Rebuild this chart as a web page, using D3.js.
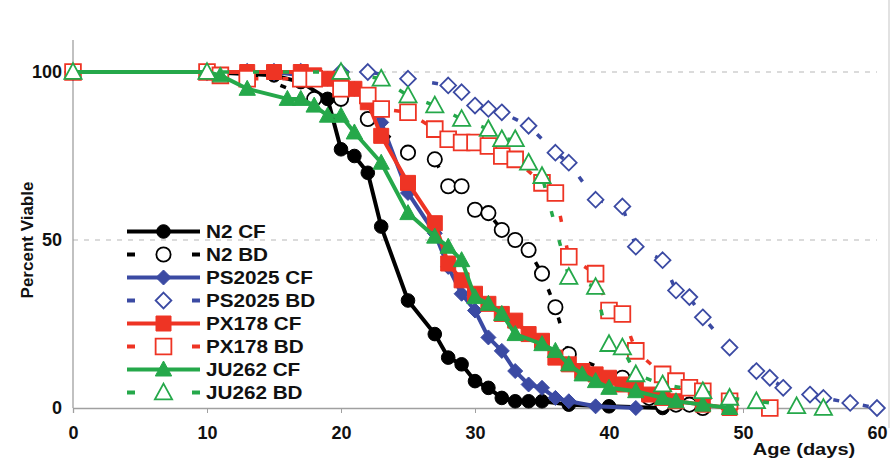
<!DOCTYPE html>
<html><head><meta charset="utf-8">
<script src="https://cdn.jsdelivr.net/npm/d3@7"></script>
<style>html,body{margin:0;padding:0;background:#fff;}svg{display:block;}</style>
</head><body>
<svg id="chart" width="894" height="466"></svg>
<script>
// ---- data ----
const xTicks = [0, 10, 20, 30, 40, 50, 60];
const yTicks = [0, 50, 100];
const seriesNames = ["N2 CF", "N2 BD", "PS2025 CF", "PS2025 BD", "PX178 CF", "PX178 BD", "JU262 CF", "JU262 BD"];

const n2CF = [[0,100],[10,100],[15,99],[17,97],[19,92],[20,77],[21,75],[22,70],[23,54],[25,32],[27,22],[28,15],[29,13],[30,8],[31,6],[32,3],[33,2],[34,2],[35,2],[37,1],[40,0.5],[44,0]];
const n2BD = [[0,100],[13,100],[18,92],[20,92],[22,86],[25,76],[27,74],[28,66],[29,66],[30,59],[31,58],[32,53],[33,50],[34,47],[35,40],[36,30],[37,16],[41,9],[43,3],[44,1],[45,1],[46,1],[47,0]];
const psCF = [[0,100],[10,100],[13,100],[15,100],[17,99],[19,98],[21,95],[22,91],[23,85],[25,64],[27,52],[28,42],[29,34],[30,29],[31,21],[32,17],[33,11],[34,7],[35,6],[36,3],[37,2],[39,0.5],[42,0]];
const psBD = [[0,100],[10,100],[13,100],[15,100],[17,100],[20,100],[22,100],[25,98],[28,96],[29,94],[30,90],[31,89],[32,88],[34,84],[36,76],[37,73],[39,62],[41,60],[42,48],[44,44],[45,35],[46,33],[47,27],[49,18],[51,11],[52,9],[53,6],[55,4],[56,3],[58,1.5],[60,0]];
const pxCF = [[0,100],[13,100],[15,100],[17,100],[18,99],[19,98],[20,97],[21,95],[22,91],[23,81],[25,67],[27,55],[28,43],[29,38],[30,34],[31,31],[32,28],[33,26],[34,22],[35,20],[36,15],[37,13],[38,11],[39,10],[40,9],[41,7],[42,6],[43,4],[44,3],[45,2],[47,1],[49,0]];
const pxBD = [[0,100],[10,100],[11,99],[13,98],[17,98],[18,98],[20,95],[22,93],[23,89],[25,88],[27,83],[28,80],[29,79],[30,79],[31,78],[32,75],[33,74],[35,67],[36,64],[37,45],[39,40],[40,29],[41,28],[42,17],[44,10],[45,8],[46,6],[47,5],[49,2],[52,0]];
const juCF = [[0,100],[10,100],[11,99],[13,95],[16,92],[17,92],[18,90],[19,87],[20,87],[21,82],[23,73],[25,58],[27,51],[28,48],[29,44],[30,33],[31,31],[32,28],[33,22],[35,19],[36,17],[37,13],[38,10],[39,8],[40,6],[42,5],[44,3],[45,2],[47,1],[49,0]];
const juBD = [[0,100],[10,100],[20,100],[23,98],[25,93],[27,90],[29,86],[31,83],[32,80],[33,80],[34,73],[35,69],[37,39],[39,36],[40,19],[41,18],[42,10],[44,7],[47,5],[49,3],[51,2],[54,0.5],[56,0]];

const seriesData = [n2CF, n2BD, psCF, psBD, pxCF, pxBD, juCF, juBD];
const seriesColors = ["#000000", "#000000", "#3b4aa3", "#3b4aa3", "#ee3424", "#ee3424", "#25a84a", "#25a84a"];
const seriesShapes = ["circle", "circle", "diamond", "diamond", "square", "square", "triangle", "triangle"];
const seriesFilled = [true, false, true, false, true, false, true, false];

// ---- drawing ----
const FONT = "Liberation Sans, Arial, sans-serif";
const svg = d3.select("#chart");
const x = d3.scaleLinear().domain([0, 60]).range([73, 877]);
const y = d3.scaleLinear().domain([0, 100]).range([408, 72]);

function shapePath(type, filled) {
  const s = filled ? 1 : 1.05;
  if (type === "circle") { const r = 6.8 * s; return `M${-r},0A${r},${r} 0 1,0 ${r},0A${r},${r} 0 1,0 ${-r},0Z`; }
  if (type === "square") { const h = 7.5 * s; return `M${-h},${-h}H${h}V${h}H${-h}Z`; }
  if (type === "triangle") { const w = 8.2 * s; return `M0,${-8.5*s}L${w},${6.5*s}L${-w},${6.5*s}Z`; }
  if (type === "diamond") { const d = 7.5 * s; return `M0,${-d}L${d},0L0,${d}L${-d},0Z`; }
}

// right border
svg.append("line").attr("x1", 889).attr("x2", 889).attr("y1", 0).attr("y2", 428)
  .attr("stroke", "#d9d9d9").attr("stroke-width", 1.5);

// gridlines
svg.append("g").selectAll("line").data([50, 100]).join("line")
  .attr("x1", x(0)).attr("x2", x(60)).attr("y1", d => y(d)).attr("y2", d => y(d))
  .attr("stroke", "#b8b8b8").attr("stroke-width", 1.2).attr("stroke-dasharray", "5,6");

// axes
const xAxis = d3.axisBottom(x).tickValues(xTicks).tickSize(5).tickPadding(13).tickFormat(d3.format("d"));
const gx = svg.append("g").attr("transform", `translate(0,${y(0)})`).call(xAxis);
gx.select(".domain").attr("stroke", "#a0a0a0").attr("stroke-width", 1.3);
gx.selectAll(".tick line").attr("stroke", "#a0a0a0");
gx.selectAll("text").attr("font-family", FONT).attr("font-weight", "bold").attr("font-size", 18).attr("fill", "#111");

const yAxis = d3.axisLeft(y).tickValues(yTicks).tickSize(0).tickPadding(11).tickFormat(d3.format("d"));
const gy = svg.append("g").attr("transform", `translate(${x(0)},0)`).call(yAxis);
gy.select(".domain").remove();
gy.append("line").attr("x1", 0).attr("x2", 0).attr("y1", 40).attr("y2", y(0)).attr("stroke", "#a0a0a0").attr("stroke-width", 1.3);
gy.selectAll("text").attr("font-family", FONT).attr("font-weight", "bold").attr("font-size", 18).attr("fill", "#111");

// axis titles
svg.append("text").attr("transform", "translate(33,240) rotate(-90)").attr("text-anchor", "middle")
  .attr("font-family", FONT).attr("font-weight", "bold").attr("font-size", 17).attr("fill", "#111")
  .text("Percent Viable");
svg.append("text").attr("transform", "translate(804,455) scale(1.18,1)").attr("text-anchor", "middle")
  .attr("font-family", FONT).attr("font-weight", "bold").attr("font-size", 17).attr("fill", "#111")
  .text("Age (days)");

// series
const line = d3.line().x(d => x(d[0])).y(d => y(d[1]));
seriesData.forEach((data, i) => {
  const g = svg.append("g");
  const filled = seriesFilled[i];
  g.append("path").attr("d", line(data)).attr("fill", "none")
    .attr("stroke", seriesColors[i]).attr("stroke-width", filled ? 4 : 3.5)
    .attr("stroke-linejoin", "round")
    .attr("stroke-dasharray", filled ? null : "6,24");
  g.selectAll("path.m").data(data).join("path").attr("class", "m")
    .attr("transform", d => `translate(${x(d[0])},${y(d[1])})`)
    .attr("d", shapePath(seriesShapes[i], filled))
    .attr("fill", filled ? seriesColors[i] : "#fff")
    .attr("stroke", seriesColors[i]).attr("stroke-width", filled ? 1 : 1.8);
});

// legend
const leg = svg.append("g");
const legY0 = 231.5, legDy = 23;
seriesNames.forEach((name, i) => {
  const yy = legY0 + i * legDy;
  const filled = seriesFilled[i];
  if (filled) {
    leg.append("line").attr("x1", 127).attr("x2", 200).attr("y1", yy).attr("y2", yy)
      .attr("stroke", seriesColors[i]).attr("stroke-width", 4);
  } else {
    [[127, 135], [192, 200]].forEach(([a, b]) => leg.append("line").attr("x1", a).attr("x2", b).attr("y1", yy).attr("y2", yy)
      .attr("stroke", seriesColors[i]).attr("stroke-width", 4));
  }
  leg.append("path").attr("transform", `translate(163.5,${yy})`).attr("d", shapePath(seriesShapes[i], filled))
    .attr("fill", filled ? seriesColors[i] : "#fff").attr("stroke", seriesColors[i]).attr("stroke-width", filled ? 1 : 1.8);
  leg.append("text").attr("transform", `translate(206,${yy + 6.5}) scale(1.15,1)`)
    .attr("font-family", FONT).attr("font-weight", "bold").attr("font-size", 18).attr("fill", "#111")
    .text(name);
});
</script>
</body></html>
